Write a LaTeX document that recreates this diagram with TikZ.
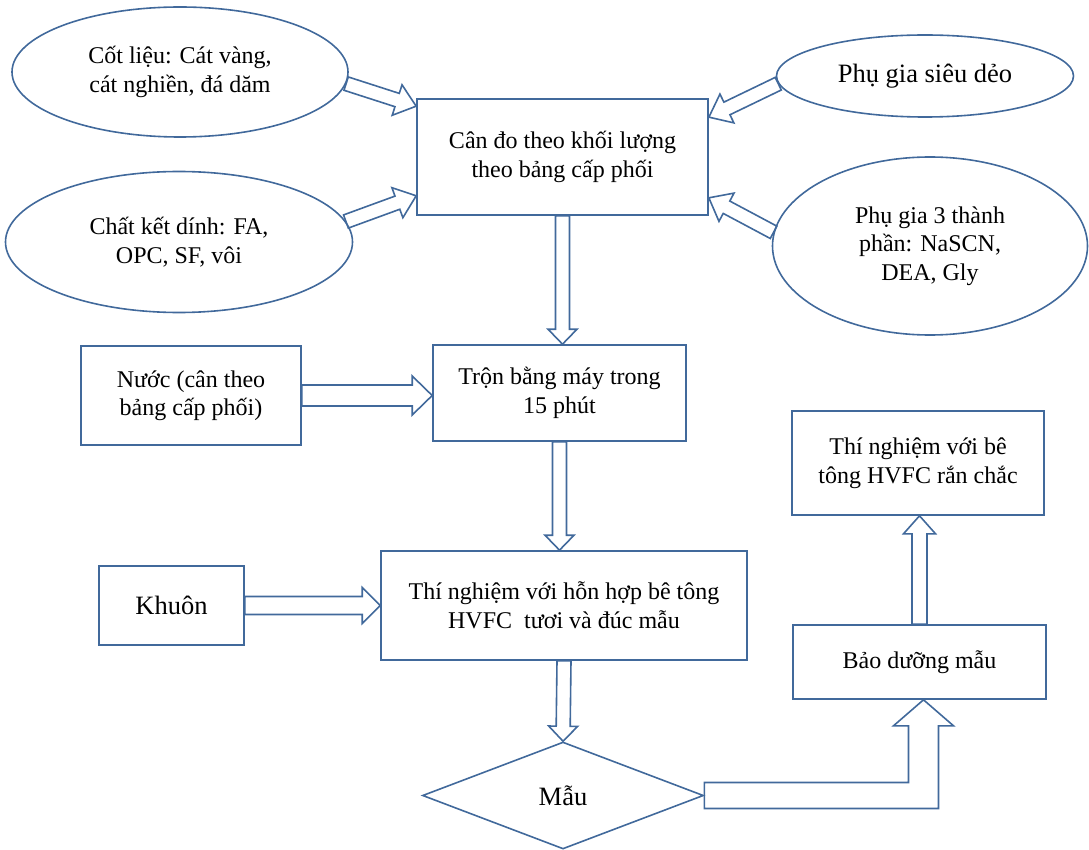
\documentclass[tikz,border=0pt]{standalone}
\usepackage{fontspec}
\setmainfont{Liberation Serif}
\usepackage{tikz}
\usetikzlibrary{shapes,calc,positioning}
\definecolor{bluegray}{HTML}{41699B}

% hollow block arrow: shaft half width, head half width, head length, from, to
\newcommand{\fatarrow}[5]{%
  \draw[fatline] let \p1=(#4), \p2=(#5), \n1={atan2(\y2-\y1,\x2-\x1)}, \n2={veclen(\x2-\x1,\y2-\y1)} in
    [shift={(\p1)}, rotate=\n1] (0,-#1) -- ({\n2-#3},-#1) -- ({\n2-#3},-#2) -- (\n2,0) -- ({\n2-#3},#2) -- ({\n2-#3},#1) -- (0,#1) -- cycle;}

\begin{document}
\begin{tikzpicture}[x=1pt, y=1pt, font=\fontsize{24}{28.5}\selectfont]
\tikzstyle{process}=[draw=bluegray, line width=1.6pt, shape=rectangle, align=center, inner sep=0pt]
\tikzstyle{oval}=[draw=bluegray, line width=1.6pt, shape=ellipse, align=center, inner sep=0pt]
\tikzstyle{decision}=[draw=bluegray, line width=1.6pt, shape=diamond, align=center, inner sep=0pt]
\tikzstyle{fatline}=[draw=bluegray, line width=1.6pt, line join=miter]
\tikzstyle{bigtext}=[font=\fontsize{26.5}{31}\selectfont]
\useasboundingbox (0,0) rectangle (1089,-850);

\node[oval, minimum width=336pt, minimum height=130pt] (0) at (180,-72) {Cốt liệu: Cát vàng,\\cát nghiền, đá dăm};
\node[oval, minimum width=347pt, minimum height=141pt] (1) at (179,-242) {Chất kết dính: FA,\\OPC, SF, vôi};
\node[oval, bigtext, minimum width=297pt, minimum height=82pt] (2) at (925,-76) {Phụ gia siêu dẻo};
\node[oval, minimum width=315pt, minimum height=178pt] (3) at (930,-246) {Phụ gia 3 thành\\phần: NaSCN,\\DEA, Gly};
\node[process, minimum width=291pt, minimum height=116pt] (4) at (562.5,-157) {Cân đo theo khối lượng\\theo bảng cấp phối};
\node[process, minimum width=220pt, minimum height=99pt] (5) at (191,-395.5) {Nước (cân theo\\bảng cấp phối)};
\node[process, minimum width=253pt, minimum height=96pt] (6) at (559.5,-393) {Trộn bằng máy trong\\15 phút};
\node[process, bigtext, minimum width=145pt, minimum height=79pt] (7) at (171.5,-605.5) {Khuôn};
\node[process, minimum width=366pt, minimum height=109pt] (8) at (564,-605.5) {Thí nghiệm với hỗn hợp bê tông\\HVFC\ \ tươi và đúc mẫu};
\node[decision, bigtext, minimum width=281pt, minimum height=107pt] (9) at (563,-795.5) {Mẫu};
\node[process, minimum width=253pt, minimum height=74pt] (10) at (919.5,-662) {Bảo dưỡng mẫu};
\node[process, minimum width=252pt, minimum height=104pt] (11) at (918,-463) {Thí nghiệm với bê\\tông HVFC rắn chắc};

\fatarrow{7}{16}{20}{0.356}{$(4.north west)+(0,-8)$}
\fatarrow{7}{16}{20}{1.7}{$(4.south west)+(0,20)$}
\fatarrow{7}{16}{20}{2.183}{$(4.north east)+(0,-19)$}
\fatarrow{7}{16}{20}{3.175}{$(4.south east)+(0,18)$}
\fatarrow{7}{14.5}{15}{4.south}{4.south |- 6.north}
\fatarrow{10.5}{19.5}{20}{5.east}{5.east -| 6.west}
\fatarrow{7}{14.5}{15}{6.south}{6.south |- 8.north}
\fatarrow{9}{18}{18}{7.east}{7.east -| 8.west}
\fatarrow{7}{14.5}{15}{8.south}{9.north}
\draw[fatline] let \p1=(9.east), \p2=($(10.south)+(4,0)$) in
  (\x1,\y1+13) -- (\x2-15,\y1+13) -- (\x2-15,\y2-26) -- (\x2-30,\y2-26) -- (\p2)
  -- (\x2+30,\y2-26) -- (\x2+15,\y2-26) -- (\x2+15,\y1-13) -- (\x1,\y1-13) -- cycle;
\fatarrow{7.5}{16}{18}{10.north}{10.north |- 11.south}

\end{tikzpicture}
\end{document}
